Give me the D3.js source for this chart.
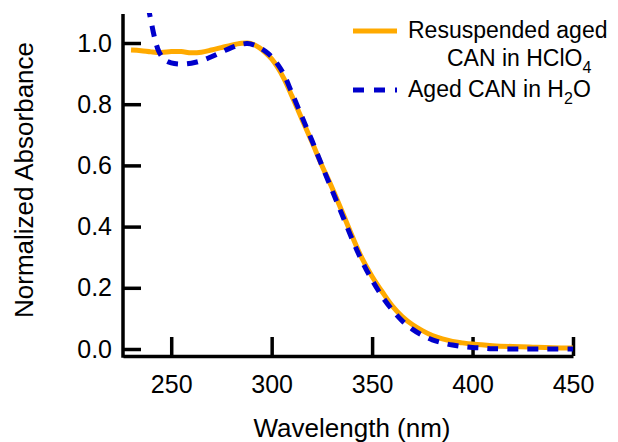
<!DOCTYPE html>
<html>
<head>
<meta charset="utf-8">
<script src="https://cdn.jsdelivr.net/npm/d3@7"></script>
<style>
  html, body { margin: 0; padding: 0; background: #fff; }
  svg { display: block; font-family: "Liberation Sans", Arial, sans-serif; }
</style>
</head>
<body>
<svg id="chart" width="618" height="442"></svg>
<script>
// ---- data ----
const wavelengthsA = [230,235,240,245,250,255,260,265,270,275,280,285,288,291,294,297,300,303,306,310,315,320,325,330,335,340,345,350,355,360,365,370,375,380,385,390,395,400,410,420,430,440,450];
const resuspendedHClO4 = [0.977,0.975,0.971,0.969,0.972,0.972,0.968,0.970,0.977,0.985,0.993,0.999,1.000,0.995,0.984,0.968,0.948,0.920,0.885,0.828,0.752,0.677,0.600,0.528,0.450,0.370,0.296,0.237,0.187,0.141,0.106,0.080,0.060,0.044,0.033,0.025,0.020,0.016,0.011,0.008,0.006,0.004,0.003];

const wavelengthsB = [236,238,240,242,244,247,250,255,260,265,270,275,280,285,288,291,294,297,300,303,306,310,315,320,325,330,335,340,345,350,355,360,365,370,375,380,385,390,395,400,405,410,420,430,440,450];
const agedH2O = [1.25,1.14,1.07,1.01,0.97,0.944,0.935,0.931,0.934,0.942,0.955,0.970,0.985,0.996,0.998,0.994,0.985,0.972,0.955,0.930,0.898,0.838,0.760,0.682,0.600,0.520,0.440,0.360,0.287,0.225,0.172,0.128,0.092,0.065,0.045,0.030,0.020,0.013,0.008,0.005,0.003,0.001,0.000,0.000,0.000,0.000];

const xTicks = [250,300,350,400,450];
const yTicks = [0.0,0.2,0.4,0.6,0.8,1.0];

const seriesNames = ["Resuspended aged", "Aged CAN in H"];
const colors = ["#ffaa00", "#0000cc"];

// ---- chart ----
const svg = d3.select("#chart");
const x = d3.scaleLinear().domain([226, 450]).range([123, 573]);
const y = d3.scaleLinear().domain([0, 1.1]).range([349, 12.4]);
const xAxisY = 356;
const axisW = 3.5;

svg.append("defs").append("clipPath").attr("id", "clip")
  .append("rect").attr("x", 123).attr("y", 13).attr("width", 460).attr("height", 350);

// y axis
const gy = svg.append("g").attr("transform", "translate(123,0)")
  .call(d3.axisLeft(y).tickValues(yTicks).tickFormat(d3.format(".1f"))
        .tickSizeInner(-18).tickSizeOuter(0).tickPadding(11));
gy.select(".domain").remove();
gy.selectAll(".tick line").attr("stroke", "#000").attr("stroke-width", axisW);
gy.selectAll(".tick text").attr("font-size", 25).attr("fill", "#000")
  .attr("font-family", "Liberation Sans, Arial, sans-serif");
svg.append("line").attr("x1", 123).attr("x2", 123).attr("y1", y(1.095)).attr("y2", xAxisY + axisW/2)
  .attr("stroke", "#000").attr("stroke-width", axisW);

// x axis
const gx = svg.append("g").attr("transform", `translate(0,${xAxisY})`)
  .call(d3.axisBottom(x).tickValues(xTicks).tickFormat(d3.format("d"))
        .tickSizeInner(-19).tickSizeOuter(0).tickPadding(19));
gx.select(".domain").attr("stroke", "#000").attr("stroke-width", axisW);
gx.selectAll(".tick line").attr("stroke", "#000").attr("stroke-width", axisW);
gx.selectAll(".tick text").attr("font-size", 25).attr("fill", "#000")
  .attr("font-family", "Liberation Sans, Arial, sans-serif");

// axis titles
svg.append("text").attr("x", 352).attr("y", 437).attr("text-anchor", "middle")
  .attr("font-size", 26).attr("fill", "#000").text("Wavelength (nm)");
svg.append("text").attr("transform", "translate(33,180) rotate(-90)").attr("text-anchor", "middle")
  .attr("font-size", 26).attr("fill", "#000").text("Normalized Absorbance");

// lines
const line = d3.line().x(d => x(d[0])).y(d => y(d[1])).curve(d3.curveCatmullRom.alpha(0.5));
const plot = svg.append("g").attr("clip-path", "url(#clip)");
plot.append("path").datum(wavelengthsA.map((w, i) => [w, resuspendedHClO4[i]]))
  .attr("d", line).attr("fill", "none").attr("stroke", colors[0]).attr("stroke-width", 5);
plot.append("path").datum(wavelengthsB.map((w, i) => [w, agedH2O[i]]))
  .attr("d", line).attr("fill", "none").attr("stroke", colors[1]).attr("stroke-width", 5)
  .attr("stroke-dasharray", "11,9");

// legend
const lg = svg.append("g").attr("font-size", 23).attr("fill", "#000");
lg.append("line").attr("x1", 353).attr("x2", 397).attr("y1", 31).attr("y2", 31)
  .attr("stroke", colors[0]).attr("stroke-width", 5);
lg.append("text").attr("x", 408).attr("y", 38).text(seriesNames[0]);
const t2 = lg.append("text").attr("x", 447).attr("y", 66);
t2.append("tspan").text("CAN in HClO");
t2.append("tspan").attr("font-size", 16).attr("dy", 7).text("4");
lg.append("line").attr("x1", 353).attr("x2", 397).attr("y1", 90).attr("y2", 90)
  .attr("stroke", colors[1]).attr("stroke-width", 5).attr("stroke-dasharray", "11,10");
const t3 = lg.append("text").attr("x", 408).attr("y", 97);
t3.append("tspan").text("Aged CAN in H");
t3.append("tspan").attr("font-size", 16).attr("dy", 7).text("2");
t3.append("tspan").attr("dy", -7).text("O");
</script>
</body>
</html>
